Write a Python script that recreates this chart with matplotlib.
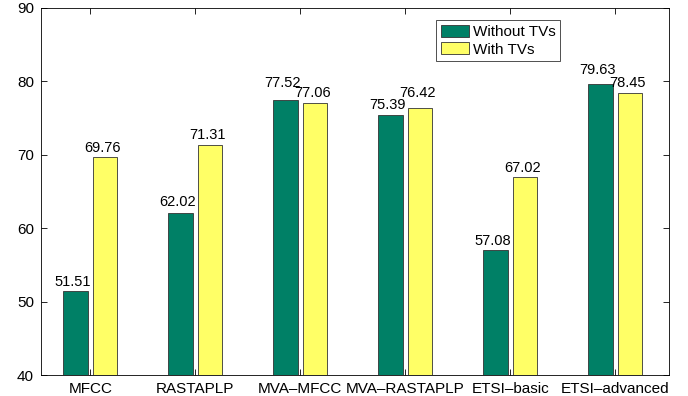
import numpy as np
import matplotlib.pyplot as plt
from matplotlib.transforms import offset_copy

plt.rcParams['font.family'] = ['Liberation Sans', 'DejaVu Sans']

categories = ['MFCC', 'RASTAPLP', 'MVA\u2013MFCC', 'MVA\u2013RASTAPLP', 'ETSI\u2013basic', 'ETSI\u2013advanced']
without_tvs = [51.51, 62.02, 77.52, 75.39, 57.08, 79.63]
with_tvs = [69.76, 71.31, 77.06, 76.42, 67.02, 78.45]

green = '#008066'
yellow = '#FFFF66'

fig = plt.figure(figsize=(6.88, 3.96), dpi=100)
ax = fig.add_axes([0.0596, 0.053, 0.9128, 0.9268])

x = np.arange(1, len(categories) + 1)
w = 0.235
off = 0.14
ax.bar(x - off, np.array(without_tvs) - 40, w, bottom=40, color=green,
       edgecolor='#333333', linewidth=0.6, label='Without TVs')
ax.bar(x + off, np.array(with_tvs) - 40, w, bottom=40, color=yellow,
       edgecolor='#333333', linewidth=0.6, label='With TVs')

# gap (in points) between bar top and its label, nudged where labels collide
lift_g = [3, 5, 9, 4.5, 3, 7.5]
lift_y = [3.5, 4.5, 4.5, 7.5, 3.5, 4.5]
for xs, vals, lifts in [(x - off, without_tvs, lift_g), (x + off, with_tvs, lift_y)]:
    for xi, v, lf in zip(xs, vals, lifts):
        tr = offset_copy(ax.transData, fig=fig, x=-2, y=lf, units='points')
        ax.text(xi, v, '%.2f' % v, ha='center', va='baseline', fontsize=10.5,
                transform=tr)

ax.set_xlim(0.53, 6.51)
ax.set_ylim(40, 90)
ax.set_xticks(x)
ax.set_xticklabels(categories)
ax.set_yticks(np.arange(40, 91, 10))
ax.tick_params(direction='in', top=True, right=True, length=4, width=0.6,
               labelsize=11, pad=5)
for s in ax.spines.values():
    s.set_linewidth(0.6)

leg = ax.legend(loc='upper left', bbox_to_anchor=(0.629, 0.967), fontsize=11,
                frameon=True, fancybox=False, edgecolor='black',
                handlelength=1.85, handleheight=0.85, handletextpad=0.25,
                borderpad=0.3, labelspacing=0.2, borderaxespad=0)
leg.get_frame().set_linewidth(0.6)

fig.savefig('out.png', dpi=100)
